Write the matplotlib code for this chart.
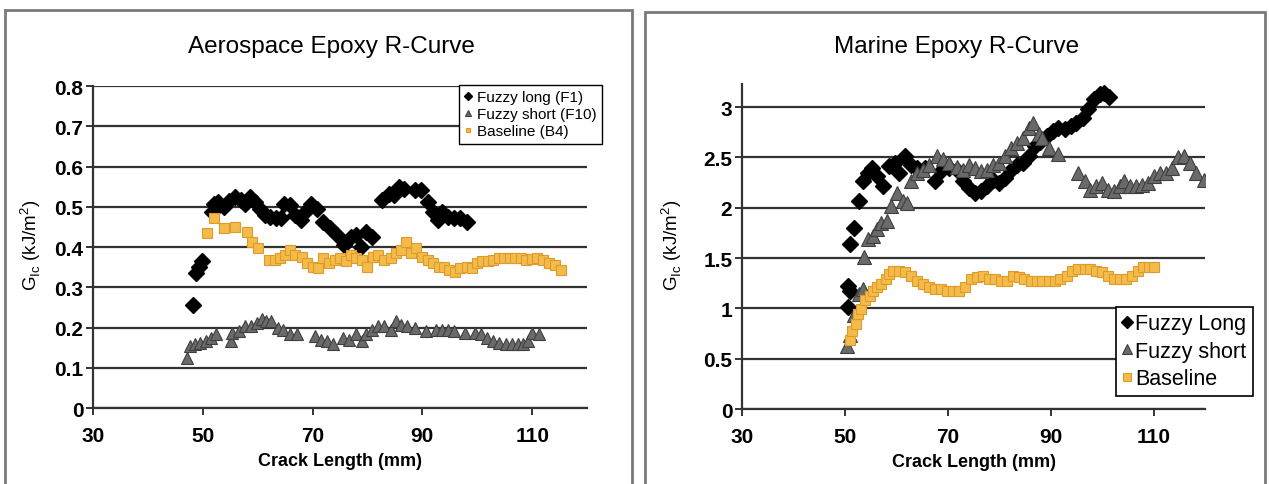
import matplotlib
matplotlib.use("Agg")
import matplotlib.pyplot as plt
from matplotlib.patches import Rectangle

plt.rcParams['font.family'] = ['Liberation Sans', 'DejaVu Sans']

# ---- Aerospace epoxy (left) ----
aero_long_x = [48.3, 48.7, 49.3, 49.8, 51.7, 52.1, 52.8, 53.8, 54.7, 55.8, 56.9, 57.7, 58.6, 59.5,
               60.5, 61.4, 62.3, 63.3, 64.3, 64.8, 65.9, 66.8, 67.8, 68.7, 69.8, 70.8, 71.9, 73.2,
               74.5, 75.8, 77.0, 77.9, 78.8, 79.7, 80.9, 82.7, 83.9, 84.8, 85.7, 86.7, 88.7, 89.8,
               91.0, 91.9, 92.8, 93.6, 94.7, 95.8, 96.9, 98.1]
aero_long_y = [0.257, 0.335, 0.35, 0.364, 0.487, 0.508, 0.512, 0.50, 0.514, 0.524, 0.516, 0.508,
               0.524, 0.512, 0.495, 0.479, 0.475, 0.471, 0.472, 0.508, 0.504, 0.48, 0.467, 0.487,
               0.508, 0.495, 0.463, 0.446, 0.43, 0.405, 0.425, 0.43, 0.40, 0.438, 0.425, 0.516,
               0.532, 0.528, 0.549, 0.545, 0.541, 0.541, 0.512, 0.487, 0.467, 0.487, 0.475, 0.471,
               0.471, 0.461]

aero_short_x = [47.2, 47.6, 48.5, 49.4, 50.6, 51.5, 52.4, 55.1, 55.4, 56.6, 57.7, 58.8, 59.9, 60.7,
                61.6, 62.5, 63.7, 64.6, 65.9, 67.2, 70.4, 71.5, 72.6, 73.8, 75.6, 76.7, 77.9, 79.0,
                79.7, 80.9, 82.0, 83.1, 84.2, 85.2, 86.1, 87.2, 88.7, 90.6, 92.5, 93.6, 94.7, 95.8,
                97.7, 99.6, 100.7, 101.8, 102.9, 104.0, 105.2, 106.3, 107.4, 108.4, 109.3, 110.0,
                111.2]
aero_short_y = [0.123, 0.154, 0.158, 0.162, 0.166, 0.174, 0.183, 0.166, 0.187, 0.191, 0.203, 0.203,
                0.212, 0.22, 0.216, 0.216, 0.199, 0.195, 0.183, 0.183, 0.179, 0.170, 0.166, 0.158,
                0.174, 0.170, 0.183, 0.166, 0.183, 0.195, 0.203, 0.203, 0.195, 0.216, 0.207, 0.203,
                0.199, 0.191, 0.195, 0.195, 0.195, 0.191, 0.187, 0.187, 0.183, 0.174, 0.166, 0.162,
                0.158, 0.158, 0.158, 0.158, 0.166, 0.187, 0.184]

aero_base_x = [50.8, 52.1, 53.9, 55.8, 58.0, 59.0, 60.1, 62.0, 63.1, 64.0, 65.0, 65.9, 66.8, 68.0,
               69.0, 70.0, 71.0, 71.9, 73.0, 74.0, 75.0, 76.0, 77.0, 77.9, 79.0, 80.0, 81.0, 82.0,
               83.1, 84.2, 85.2, 86.1, 87.1, 88.0, 88.9, 90.0, 91.0, 91.9, 93.0, 94.0, 94.9, 96.0,
               96.9, 98.1, 99.0, 99.9, 100.9, 101.9, 102.9, 103.9, 104.9, 105.9, 106.9, 107.9,
               108.9, 109.9, 110.9, 111.9, 113.0, 114.1, 115.3]
aero_base_y = [0.436, 0.471, 0.446, 0.45, 0.438, 0.413, 0.397, 0.368, 0.368, 0.372, 0.38, 0.393,
               0.38, 0.376, 0.36, 0.351, 0.347, 0.372, 0.36, 0.368, 0.372, 0.364, 0.38, 0.372,
               0.368, 0.351, 0.376, 0.38, 0.368, 0.372, 0.384, 0.393, 0.413, 0.384, 0.397, 0.376,
               0.368, 0.36, 0.351, 0.351, 0.343, 0.339, 0.347, 0.351, 0.347, 0.36, 0.364, 0.364,
               0.368, 0.372, 0.372, 0.372, 0.372, 0.372, 0.368, 0.370, 0.372, 0.368, 0.36, 0.355,
               0.343]

# ---- Marine epoxy (right) ----
mar_long_x = [50.7, 50.7, 50.9, 50.9, 51.7, 52.8, 53.6, 54.4, 55.2, 56.3, 57.5, 58.6, 59.8, 60.6,
              61.7, 62.9, 64.1, 65.6, 67.5, 68.7, 70.2, 71.8, 72.9, 74.1, 75.3, 76.4, 77.6, 78.8,
              79.9, 81.1, 82.2, 83.4, 84.6, 85.7, 86.9, 88.0, 89.2, 90.4, 91.5, 92.7, 93.9, 95.0,
              96.2, 97.3, 98.5, 99.5, 100.4, 101.4]
mar_long_y = [1.01, 1.22, 1.17, 1.64, 1.80, 2.07, 2.27, 2.35, 2.40, 2.32, 2.22, 2.42, 2.45, 2.35,
              2.51, 2.43, 2.40, 2.40, 2.27, 2.37, 2.40, 2.38, 2.27, 2.20, 2.15, 2.17, 2.22, 2.28,
              2.25, 2.30, 2.38, 2.43, 2.45, 2.51, 2.61, 2.65, 2.71, 2.76, 2.79, 2.78, 2.81, 2.84,
              2.89, 2.98, 3.08, 3.13, 3.14, 3.10]

mar_short_x = [50.5, 50.9, 51.7, 52.8, 53.6, 53.8, 54.4, 55.5, 56.3, 57.1, 58.2, 59.0, 60.2, 61.3,
               62.1, 62.9, 64.1, 65.2, 66.4, 67.9, 69.1, 70.3, 71.8, 73.0, 74.1, 75.3, 76.4, 77.6,
               78.8, 79.9, 81.1, 82.2, 83.4, 84.6, 85.7, 86.5, 87.7, 88.4, 89.6, 91.5, 95.4, 96.6,
               97.7, 98.9, 100.0, 101.2, 102.4, 103.5, 104.3, 105.5, 106.6, 107.8, 109.0, 110.1,
               111.3, 112.4, 113.6, 114.8, 115.9, 117.1, 118.2, 119.8]
mar_short_y = [0.63, 0.74, 0.93, 1.14, 1.19, 1.51, 1.69, 1.72, 1.79, 1.85, 1.87, 2.02, 2.15, 2.07,
               2.05, 2.27, 2.35, 2.38, 2.43, 2.51, 2.48, 2.45, 2.41, 2.38, 2.43, 2.40, 2.37, 2.38,
               2.43, 2.45, 2.51, 2.59, 2.64, 2.69, 2.79, 2.84, 2.73, 2.69, 2.59, 2.53, 2.35, 2.27,
               2.18, 2.22, 2.25, 2.18, 2.17, 2.22, 2.27, 2.22, 2.22, 2.23, 2.25, 2.32, 2.35, 2.35,
               2.40, 2.50, 2.51, 2.45, 2.35, 2.28]

mar_base_x = [50.9, 51.3, 52.1, 52.6, 53.2, 54.0, 54.8, 55.4, 56.3, 57.1, 57.9, 58.6, 59.4, 60.6,
              61.7, 62.9, 64.1, 65.2, 66.4, 67.5, 68.7, 69.9, 71.0, 72.2, 73.3, 74.5, 75.7, 76.8,
              78.0, 79.1, 80.3, 81.5, 82.6, 83.8, 84.9, 86.1, 87.3, 88.4, 89.6, 90.8, 91.9, 93.1,
              94.2, 95.4, 96.6, 97.7, 98.9, 100.0, 101.2, 102.4, 103.5, 104.7, 105.9, 107.0, 108.0,
              109.1, 110.1]
mar_base_y = [0.69, 0.78, 0.84, 0.94, 0.99, 1.08, 1.12, 1.17, 1.21, 1.24, 1.29, 1.34, 1.37, 1.37,
              1.36, 1.32, 1.27, 1.24, 1.21, 1.19, 1.19, 1.17, 1.17, 1.17, 1.21, 1.29, 1.31, 1.32,
              1.29, 1.29, 1.27, 1.27, 1.32, 1.31, 1.29, 1.27, 1.27, 1.27, 1.27, 1.27, 1.29, 1.32,
              1.37, 1.39, 1.39, 1.39, 1.37, 1.36, 1.32, 1.29, 1.29, 1.29, 1.32, 1.37, 1.41, 1.41,
              1.41]

x_ticks = [30, 50, 70, 90, 110]

BLACK = '#000000'
GRAY_FILL, GRAY_EDGE = '#6a6a6a', '#3f3f3f'
ORANGE_FILL, ORANGE_EDGE = '#f3bb4a', '#e09a2a'
GRID = '#333333'

fig = plt.figure(figsize=(12.69, 4.85), dpi=100)

# panel frames
fig.add_artist(Rectangle((0.004, -0.05), 0.494, 1.027, transform=fig.transFigure,
                         fill=False, edgecolor='#7a7a7a', lw=2))
fig.add_artist(Rectangle((0.508, -0.05), 0.489, 1.023, transform=fig.transFigure,
                         fill=False, edgecolor='#7a7a7a', lw=2))


def style_axes(ax, ylim, yticks, yfmt):
    ax.set_xlim(30, 120)
    ax.set_ylim(*ylim)
    ax.set_xticks(x_ticks)
    ax.set_yticks(yticks)
    ax.set_yticklabels([yfmt(v) for v in yticks])
    for s in ['top', 'right']:
        ax.spines[s].set_visible(False)
    for s in ['left', 'bottom']:
        ax.spines[s].set_color(GRID)
        ax.spines[s].set_linewidth(1.6)
    ax.yaxis.grid(True, color=GRID, lw=1.6)
    ax.set_axisbelow(True)
    ax.tick_params(direction='out', length=5, width=1.4, color=GRID, labelsize=15)
    ax.tick_params(axis='y', pad=2)
    ax.tick_params(axis='x', pad=8)
    for lab in ax.get_xticklabels() + ax.get_yticklabels():
        lab.set_fontweight('bold')
    ax.set_xlabel('Crack Length (mm)', fontsize=13, fontweight='bold', labelpad=5)


# ---- left ----
ax1 = fig.add_axes([0.0733, 0.1567, 0.3893, 0.6639])
ax1.plot(aero_long_x, aero_long_y, 'D', ms=8, mfc=BLACK, mec=BLACK, label='Fuzzy long (F1)')
ax1.plot(aero_short_x, aero_short_y, '^', ms=9, mfc=GRAY_FILL, mec=GRAY_EDGE, mew=0.8,
         label='Fuzzy short (F10)')
ax1.plot(aero_base_x, aero_base_y, 's', ms=7.5, mfc=ORANGE_FILL, mec=ORANGE_EDGE, mew=0.8,
         label='Baseline (B4)')
style_axes(ax1, (0, 0.8), [0, 0.1, 0.2, 0.3, 0.4, 0.5, 0.6, 0.7, 0.8],
           lambda v: '0' if v == 0 else f'{v:.1f}')
leg1 = ax1.legend(loc='upper right', bbox_to_anchor=(0.474, 0.823),
                  bbox_transform=fig.transFigure, fontsize=11, markerscale=0.45,
                  handlelength=0.5, handletextpad=0.3, labelspacing=0.2,
                  borderpad=0.35, borderaxespad=0, fancybox=False, framealpha=1,
                  edgecolor='black')
leg1.get_frame().set_linewidth(1.0)
fig.text(0.2615, 0.903, 'Aerospace Epoxy R-Curve', ha='center', va='center', fontsize=17.5)
fig.text(0.024, 0.495, r'G$_{\mathregular{Ic}}$ (kJ/m$^{\mathregular{2}}$)', rotation=90,
         ha='center', va='center', fontsize=13.5)

# ---- right ----
ax2 = fig.add_axes([0.5847, 0.1546, 0.3649, 0.6701])
ax2.plot(mar_long_x, mar_long_y, 'D', ms=8.5, mfc=BLACK, mec=BLACK, label='Fuzzy Long')
ax2.plot(mar_short_x, mar_short_y, '^', ms=10, mfc=GRAY_FILL, mec=GRAY_EDGE, mew=0.8,
         label='Fuzzy short')
ax2.plot(mar_base_x, mar_base_y, 's', ms=7.5, mfc=ORANGE_FILL, mec=ORANGE_EDGE, mew=0.8,
         label='Baseline')
style_axes(ax2, (0, 3.23), [0, 0.5, 1, 1.5, 2, 2.5, 3],
           lambda v: f'{v:g}')
leg2 = ax2.legend(loc='upper right', bbox_to_anchor=(0.9874, 0.365),
                  bbox_transform=fig.transFigure, fontsize=15.5, markerscale=0.7,
                  handlelength=0.45, handletextpad=0.15, labelspacing=0.3,
                  borderpad=0.3, borderaxespad=0, fancybox=False, framealpha=1,
                  edgecolor='black')
leg2.get_frame().set_linewidth(1.2)
fig.text(0.754, 0.903, 'Marine Epoxy R-Curve', ha='center', va='center', fontsize=17.5)
fig.text(0.529, 0.495, r'G$_{\mathregular{Ic}}$ (kJ/m$^{\mathregular{2}}$)', rotation=90,
         ha='center', va='center', fontsize=13.5)

fig.savefig('out.png', dpi=100)
